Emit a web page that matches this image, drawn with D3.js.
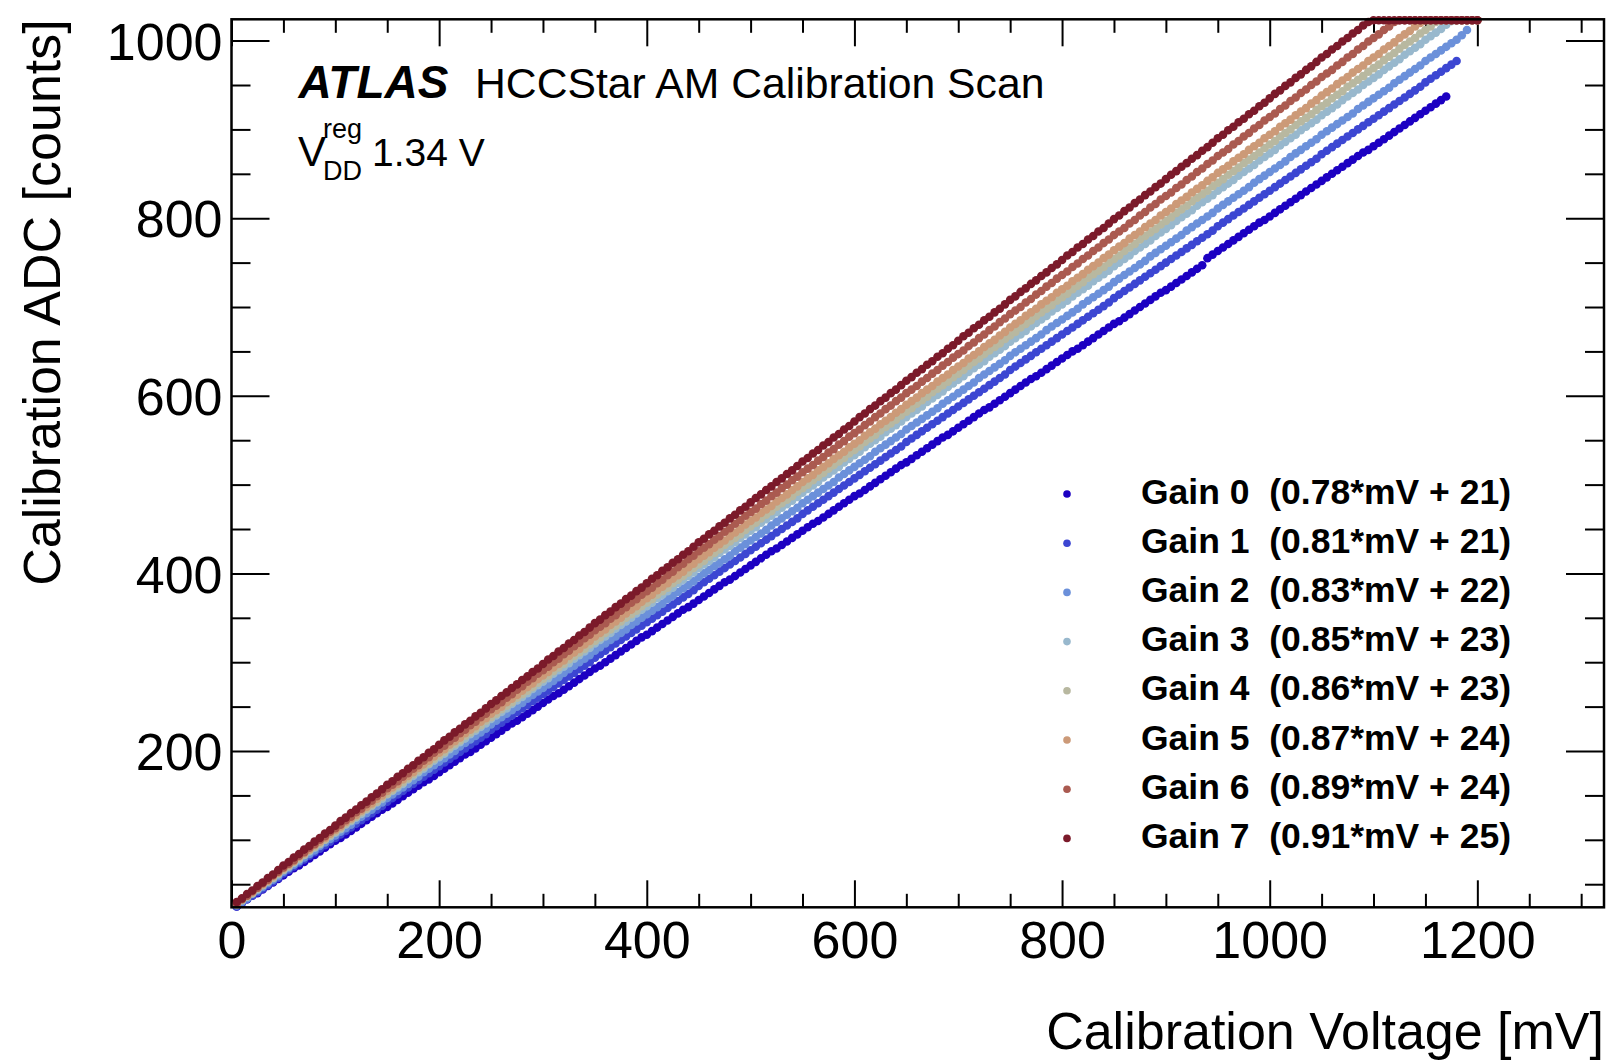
<!DOCTYPE html>
<html>
<head>
<meta charset="utf-8">
<script src="https://cdn.jsdelivr.net/npm/d3@7"></script>
<style>
body { margin: 0; background: #fff; }
text { font-family: "Liberation Sans", Arial, Helvetica, sans-serif; }
</style>
</head>
<body>
<div class="chart"></div>
<script>
// calibration voltage steps of the scan [mV]
var voltages = [
    5,10,15,20,25,30,35,40,45,50,55,60,65,70,75,80,85,90,95,100,
    105,110,115,120,125,130,135,140,145,150,155,160,165,170,175,180,185,190,195,200,
    205,210,215,220,225,230,235,240,245,250,255,260,265,270,275,280,285,290,295,300,
    305,310,315,320,325,330,335,340,345,350,355,360,365,370,375,380,385,390,395,400,
    405,410,415,420,425,430,435,440,445,450,455,460,465,470,475,480,485,490,495,500,
    505,510,515,520,525,530,535,540,545,550,555,560,565,570,575,580,585,590,595,600,
    605,610,615,620,625,630,635,640,645,650,655,660,665,670,675,680,685,690,695,700,
    705,710,715,720,725,730,735,740,745,750,755,760,765,770,775,780,785,790,795,800,
    805,810,815,820,825,830,835,840,845,850,855,860,865,870,875,880,885,890,895,900,
    905,910,915,920,925,930,935,940,945,950,955,960,965,970,975,980,985,990,995,1000,
    1005,1010,1015,1020,1025,1030,1035,1040,1045,1050,1055,1060,1065,1070,1075,1080,1085,1090,1095,1100,
    1105,1110,1115,1120,1125,1130,1135,1140,1145,1150,1155,1160,1165,1170,1175,1180,1185,1190,1195,1200
]

// ADC counts per gain, one value per voltage step
var gain0 = [
    25,29,33,37,40,44,48,52,56,60,64,68,71,75,79,83,87,91,95,99,
    102,106,110,114,118,122,126,130,134,137,141,145,149,153,157,161,165,168,172,176,
    180,184,188,192,196,199,203,207,211,215,219,223,227,231,234,238,242,246,250,254,
    258,262,265,269,273,277,281,285,289,293,296,300,304,308,312,316,320,324,328,331,
    335,339,343,347,351,355,359,362,366,370,374,378,382,386,390,393,397,401,405,409,
    413,417,421,425,428,432,436,440,444,448,452,456,459,463,467,471,475,479,483,487,
    490,494,498,502,506,510,514,518,522,525,529,533,537,541,545,549,553,556,560,564,
    568,572,576,580,584,587,591,595,599,603,607,611,615,619,622,626,630,634,638,642,
    646,650,653,657,661,665,669,673,677,681,684,688,692,696,700,704,708,712,716,719,
    723,727,731,735,739,743,747,755,759,763,767,771,775,779,783,787,791,795,798,802,
    806,810,814,818,822,826,830,834,838,842,846,850,854,858,862,866,870,874,877,881,
    885,889,893,897,901,905,909,913,917,921,925,929,933,937
]
var gain1 = [
    25,29,33,37,41,45,49,53,57,62,66,70,74,78,82,86,90,94,98,102,
    106,110,114,118,122,126,130,134,138,143,147,151,155,159,163,167,171,175,179,183,
    187,191,195,199,203,207,211,215,219,224,228,232,236,240,244,248,252,256,260,264,
    268,272,276,280,284,288,292,296,300,305,309,313,317,321,325,329,333,337,341,345,
    349,353,357,361,365,369,373,377,381,386,390,394,398,402,406,410,414,418,422,426,
    430,434,438,442,446,450,454,458,462,467,471,475,479,483,487,491,495,499,503,507,
    511,515,519,523,527,531,535,539,543,548,552,556,560,564,568,572,576,580,584,588,
    592,596,600,604,608,612,616,620,624,629,633,637,641,645,649,653,657,661,665,669,
    673,677,681,685,689,693,697,701,705,710,714,718,722,726,730,734,738,742,746,750,
    754,758,762,766,770,774,778,782,786,791,795,799,803,807,811,815,819,823,827,831,
    835,839,843,847,851,855,859,863,867,872,876,880,884,888,892,896,900,904,908,912,
    916,920,924,928,932,936,940,944,948,953,957,961,965,969,973,977
]
var gain2 = [
    26,30,34,39,43,47,51,55,59,64,68,72,76,80,84,88,93,97,101,105,
    109,113,117,122,126,130,134,138,142,147,151,155,159,163,167,171,176,180,184,188,
    192,196,200,205,209,213,217,221,225,230,234,238,242,246,250,254,259,263,267,271,
    275,279,283,288,292,296,300,304,308,313,317,321,325,329,333,337,342,346,350,354,
    358,362,366,371,375,379,383,387,391,396,400,404,408,412,416,420,425,429,433,437,
    441,445,449,454,458,462,466,470,474,479,483,487,491,495,499,503,508,512,516,520,
    524,528,532,537,541,545,549,553,557,562,566,570,574,578,582,586,591,595,599,603,
    607,611,615,620,624,628,632,636,640,645,649,653,657,661,665,669,674,678,682,686,
    690,694,698,703,707,711,715,719,723,728,732,736,740,744,748,752,757,761,765,769,
    773,777,781,786,790,794,798,802,806,811,815,819,823,827,831,835,840,844,848,852,
    856,860,864,869,873,877,881,885,889,894,898,902,906,910,914,918,923,927,931,935,
    939,943,947,952,956,960,964,968,972,977,981,985,989,993,997,1001,1006,1012
]
var gain3 = [
    27,32,36,40,44,49,53,57,61,66,70,74,78,83,87,91,95,100,104,108,
    112,117,121,125,129,134,138,142,146,151,155,159,163,168,172,176,180,185,189,193,
    197,202,206,210,214,219,223,227,231,236,240,244,248,253,257,261,265,270,274,278,
    282,287,291,295,299,304,308,312,316,321,325,329,333,338,342,346,350,355,359,363,
    367,372,376,380,384,389,393,397,401,406,410,414,418,423,427,431,435,440,444,448,
    452,457,461,465,469,474,478,482,486,491,495,499,503,508,512,516,520,525,529,533,
    537,542,546,550,554,559,563,567,571,576,580,584,588,593,597,601,605,610,614,618,
    622,627,631,635,639,644,648,652,656,661,665,669,673,678,682,686,690,695,699,703,
    707,712,716,720,724,729,733,737,741,746,750,754,758,763,767,771,775,780,784,788,
    792,797,801,805,809,814,818,822,826,831,835,839,843,848,852,856,860,865,869,873,
    877,882,886,890,894,899,903,907,911,916,920,924,928,933,937,941,945,950,954,958,
    962,967,971,975,979,984,988,992,996,1001,1005,1009,1013,1018,1022,1023,1023,1023,1023,1023
]
var gain4 = [
    27,32,36,40,45,49,53,57,62,66,70,75,79,83,88,92,96,100,105,109,
    113,118,122,126,131,135,139,143,148,152,156,161,165,169,174,178,182,186,191,195,
    199,204,208,212,217,221,225,229,234,238,242,247,251,255,260,264,268,272,277,281,
    285,290,294,298,303,307,311,315,320,324,328,333,337,341,346,350,354,358,363,367,
    371,376,380,384,389,393,397,401,406,410,414,419,423,427,432,436,440,444,449,453,
    457,462,466,470,475,479,483,487,492,496,500,505,509,513,518,522,526,530,535,539,
    543,548,552,556,561,565,569,573,578,582,586,591,595,599,604,608,612,616,621,625,
    629,634,638,642,647,651,655,659,664,668,672,677,681,685,690,694,698,702,707,711,
    715,720,724,728,733,737,741,745,750,754,758,763,767,771,776,780,784,788,793,797,
    801,806,810,814,819,823,827,831,836,840,844,849,853,857,862,866,870,874,879,883,
    887,892,896,900,905,909,913,917,922,926,930,935,939,943,948,952,956,960,965,969,
    973,978,982,986,991,995,999,1003,1008,1012,1016,1021,1023,1023,1023,1023,1023,1023,1023,1023
]
var gain5 = [
    28,33,37,41,46,50,54,59,63,68,72,76,81,85,89,94,98,102,107,111,
    115,120,124,128,133,137,141,146,150,155,159,163,168,172,176,181,185,189,194,198,
    202,207,211,215,220,224,228,233,237,242,246,250,255,259,263,268,272,276,281,285,
    289,294,298,302,307,311,315,320,324,329,333,337,342,346,350,355,359,363,368,372,
    376,381,385,389,394,398,402,407,411,416,420,424,429,433,437,442,446,450,455,459,
    463,468,472,476,481,485,489,494,498,503,507,511,516,520,524,529,533,537,542,546,
    550,555,559,563,568,572,576,581,585,590,594,598,603,607,611,616,620,624,629,633,
    637,642,646,650,655,659,663,668,672,677,681,685,690,694,698,703,707,711,716,720,
    724,729,733,737,742,746,750,755,759,764,768,772,777,781,785,790,794,798,803,807,
    811,816,820,824,829,833,837,842,846,851,855,859,864,868,872,877,881,885,890,894,
    898,903,907,911,916,920,924,929,933,938,942,946,951,955,959,964,968,972,977,981,
    985,990,994,998,1003,1007,1011,1016,1020,1023,1023,1023,1023,1023,1023,1023,1023,1023,1023,1023
]
var gain6 = [
    28,33,37,42,46,51,55,60,64,69,73,77,82,86,91,95,100,104,109,113,
    117,122,126,131,135,140,144,149,153,158,162,166,171,175,180,184,189,193,198,202,
    206,211,215,220,224,229,233,238,242,247,251,255,260,264,269,273,278,282,287,291,
    295,300,304,309,313,318,322,327,331,336,340,344,349,353,358,362,367,371,376,380,
    384,389,393,398,402,407,411,416,420,425,429,433,438,442,447,451,456,460,465,469,
    473,478,482,487,491,496,500,505,509,514,518,522,527,531,536,540,545,549,554,558,
    562,567,571,576,580,585,589,594,598,603,607,611,616,620,625,629,634,638,643,647,
    651,656,660,665,669,674,678,683,687,692,696,700,705,709,714,718,723,727,732,736,
    740,745,749,754,758,763,767,772,776,781,785,789,794,798,803,807,812,816,821,825,
    829,834,838,843,847,852,856,861,865,870,874,878,883,887,892,896,901,905,910,914,
    918,923,927,932,936,941,945,950,954,959,963,967,972,976,981,985,990,994,999,1003,
    1007,1012,1016,1021,1023,1023,1023,1023,1023,1023,1023,1023,1023,1023,1023,1023,1023,1023,1023,1023
]
var gain7 = [
    30,34,39,43,48,52,57,61,66,71,75,80,84,89,93,98,102,107,111,116,
    121,125,130,134,139,143,148,152,157,162,166,171,175,180,184,189,193,198,202,207,
    212,216,221,225,230,234,239,243,248,253,257,262,266,271,275,280,284,289,293,298,
    303,307,312,316,321,325,330,334,339,344,348,353,357,362,366,371,375,380,384,389,
    394,398,403,407,412,416,421,425,430,435,439,444,448,453,457,462,466,471,475,480,
    485,489,494,498,503,507,512,516,521,526,530,535,539,544,548,553,557,562,566,571,
    576,580,585,589,594,598,603,607,612,617,621,626,630,635,639,644,648,653,657,662,
    667,671,676,680,685,689,694,698,703,708,712,717,721,726,730,735,739,744,748,753,
    758,762,767,771,776,780,785,789,794,799,803,808,812,817,821,826,830,835,839,844,
    849,853,858,862,867,871,876,880,885,890,894,899,903,908,912,917,921,926,930,935,
    940,944,949,953,958,962,967,971,976,981,985,990,994,999,1003,1008,1012,1017,1021,1023,
    1023,1023,1023,1023,1023,1023,1023,1023,1023,1023,1023,1023,1023,1023,1023,1023,1023,1023,1023,1023
]

var gainNames = ["Gain 0", "Gain 1", "Gain 2", "Gain 3", "Gain 4", "Gain 5", "Gain 6", "Gain 7"]
var gainFits = ["(0.78*mV + 21)", "(0.81*mV + 21)", "(0.83*mV + 22)", "(0.85*mV + 23)",
                "(0.86*mV + 23)", "(0.87*mV + 24)", "(0.89*mV + 24)", "(0.91*mV + 25)"]
var gainColors = ["#1c00c2", "#3c46d2", "#6b90da", "#98b8cd", "#b8b8a0", "#cc9a78", "#aa5a50", "#7b1a2a"]
var xTicks = [0, 200, 400, 600, 800, 1000, 1200]
var yTicks = [200, 400, 600, 800, 1000]

var series = [gain0, gain1, gain2, gain3, gain4, gain5, gain6, gain7]

var W = 1610, H = 1060
var frame = { left: 231.5, right: 1604, top: 19.3, bottom: 907.3 }
var font = '"Liberation Sans", Arial, Helvetica, sans-serif'

var x = d3.scaleLinear().domain([0, 1322]).range([frame.left, frame.right])
var y = d3.scaleLinear().domain([24, 1024]).range([frame.bottom, frame.top])

var svg = d3.select(".chart").append("svg")
    .attr("width", W)
    .attr("height", H)

svg.append("rect").attr("width", W).attr("height", H).attr("fill", "#fff")

function styleAxis(g) {
    g.select(".domain").remove()
    g.attr("font-size", 52).attr("font-family", font)
    g.selectAll("line").attr("stroke", "#000").attr("stroke-width", 2)
    g.selectAll("text").attr("fill", "#000")
}

var xMinor = d3.range(50, 1322, 50).filter(function(v) { return v % 200 !== 0 })
var yMinor = d3.range(50, 1024, 50).filter(function(v) { return v % 200 !== 0 })

// bottom axis with labels
svg.append("g").attr("transform", "translate(0," + frame.bottom + ")")
    .call(d3.axisBottom(x).tickValues(xTicks).tickSize(-27).tickPadding(14).tickFormat(d3.format("d")))
    .call(styleAxis)
svg.append("g").attr("transform", "translate(0," + frame.bottom + ")")
    .call(d3.axisBottom(x).tickValues(xMinor).tickSize(-13.5).tickFormat(""))
    .call(styleAxis)
// top axis, ticks only
svg.append("g").attr("transform", "translate(0," + frame.top + ")")
    .call(d3.axisTop(x).tickValues(xTicks).tickSize(-27).tickFormat(""))
    .call(styleAxis)
svg.append("g").attr("transform", "translate(0," + frame.top + ")")
    .call(d3.axisTop(x).tickValues(xMinor).tickSize(-13.5).tickFormat(""))
    .call(styleAxis)
// left axis with labels
svg.append("g").attr("transform", "translate(" + frame.left + ",0)")
    .call(d3.axisLeft(y).tickValues(yTicks).tickSize(-38).tickPadding(9).tickFormat(d3.format("d")))
    .call(styleAxis)
    .selectAll("text").attr("dy", "0.36em")
svg.append("g").attr("transform", "translate(" + frame.left + ",0)")
    .call(d3.axisLeft(y).tickValues(yMinor).tickSize(-19).tickFormat(""))
    .call(styleAxis)
// right axis, ticks only
svg.append("g").attr("transform", "translate(" + frame.right + ",0)")
    .call(d3.axisRight(y).tickValues(yTicks).tickSize(-38).tickFormat(""))
    .call(styleAxis)
svg.append("g").attr("transform", "translate(" + frame.right + ",0)")
    .call(d3.axisRight(y).tickValues(yMinor).tickSize(-19).tickFormat(""))
    .call(styleAxis)

// scan points, gain 0 drawn first
series.forEach(function(vals, gi) {
    var pts = vals.map(function(v, i) { return { mv: voltages[i], adc: v } })
        .filter(function(d) { return d.adc >= 24 && d.adc <= 1024 })
    svg.append("g").selectAll("circle")
        .data(pts)
        .enter().append("circle")
        .attr("cx", function(d) { return x(d.mv) })
        .attr("cy", function(d) { return y(d.adc) })
        .attr("r", 4.3)
        .attr("fill", gainColors[gi])
})

// frame on top
svg.append("rect")
    .attr("x", frame.left).attr("y", frame.top)
    .attr("width", frame.right - frame.left)
    .attr("height", frame.bottom - frame.top)
    .attr("fill", "none").attr("stroke", "#000").attr("stroke-width", 2.5)

// axis titles
svg.append("text")
    .attr("x", frame.right).attr("y", 1049)
    .attr("text-anchor", "end").attr("font-size", 52)
    .text("Calibration Voltage [mV]")
svg.append("text")
    .attr("transform", "translate(60," + frame.top + ") rotate(-90)")
    .attr("text-anchor", "end").attr("font-size", 52)
    .text("Calibration ADC [counts]")

// ATLAS label
svg.append("text")
    .attr("x", 298.5).attr("y", 97.5)
    .attr("font-size", 46).attr("font-weight", "bold").attr("font-style", "italic")
    .text("ATLAS")
svg.append("text")
    .attr("x", 475).attr("y", 97.5)
    .attr("font-size", 42.7)
    .text("HCCStar AM Calibration Scan")
svg.append("text").attr("x", 298).attr("y", 166).attr("font-size", 42).text("V")
svg.append("text").attr("x", 323).attr("y", 138).attr("font-size", 27).text("reg")
svg.append("text").attr("x", 323).attr("y", 180).attr("font-size", 27).text("DD")
svg.append("text").attr("x", 372).attr("y", 166).attr("font-size", 39).text("1.34 V")

// legend
var leg = svg.append("g")
gainNames.forEach(function(name, i) {
    var cy = 494 + 49.2 * i
    leg.append("circle").attr("cx", 1067).attr("cy", cy).attr("r", 3.8).attr("fill", gainColors[i])
    leg.append("text")
        .attr("x", 1141).attr("y", cy + 9.5)
        .attr("font-size", 35.5).attr("font-weight", "bold")
        .style("white-space", "pre")
        .text(name + "  " + gainFits[i])
})
</script>
</body>
</html>
